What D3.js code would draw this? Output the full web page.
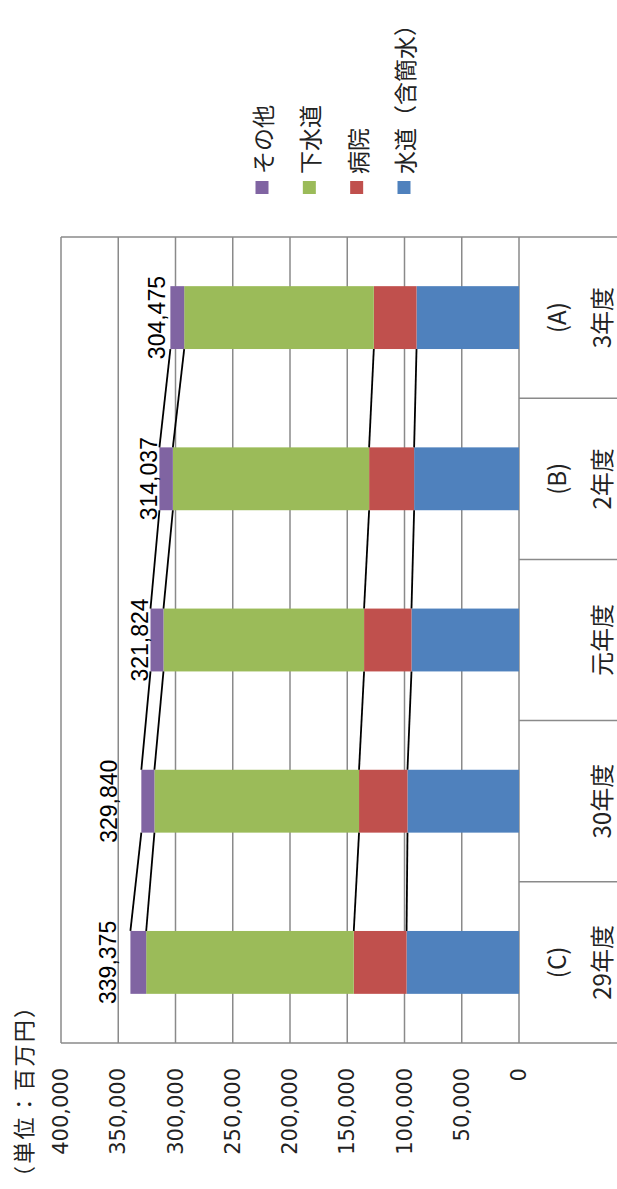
<!DOCTYPE html>
<html>
<head>
<meta charset="utf-8">
<script src="https://cdn.jsdelivr.net/npm/d3@7"></script>
<style>
  html, body { margin: 0; padding: 0; background: #fff; }
  svg { display: block; }
</style>
</head>
<body>
<svg id="chart" width="617" height="1189"></svg>
<script>
// ---- data (百万円) ----
const categories = ["29年度", "30年度", "元年度", "2年度", "3年度"];
const categoryTags = ["(C)", "", "", "(B)", "(A)"];
const seriesNames = ["水道（含簡水）", "病院", "下水道", "その他"];
const water    = [98200, 97400, 93900, 91600, 89500];
const hospital = [46100, 42300, 41400, 39300, 37300];
const sewer    = [181300, 178700, 175200, 171400, 165600];
const other    = [13775, 11440, 11324, 11737, 12075];
const totals   = [339375, 329840, 321824, 314037, 304475];
const tickValues = [0, 50000, 100000, 150000, 200000, 250000, 300000, 350000, 400000];
const unitLabel = "（単位：百万円）";

// ---- layout ----
const colors = ["#4F81BD", "#C0504D", "#9BBB59", "#8064A2"];
const plotLeft = 61, plotRight = 519, plotTop = 237, plotBottom = 1043, tableRight = 617;
const labelGap = [14, 24, 3, 2, 5];
const gridColor = "#8a8a8a";
const jp = "'Noto Sans CJK JP', 'Noto Sans', sans-serif";

const svg = d3.select("#chart");

const x = d3.scaleLinear().domain([0, 400000]).range([plotRight, plotLeft]);
const y = d3.scaleBand().domain(categories).range([plotBottom, plotTop])
  .paddingInner(0.61).paddingOuter(0.305);
const bw = y.bandwidth();
const step = y.step();

const rows = categories.map((c, i) => ({
  cat: c, s0: water[i], s1: hospital[i], s2: sewer[i], s3: other[i]
}));
const layers = d3.stack().keys(["s0", "s1", "s2", "s3"])(rows);

// gridlines
svg.append("g").selectAll("line").data(tickValues).join("line")
  .attr("x1", d => x(d)).attr("x2", d => x(d))
  .attr("y1", plotTop).attr("y2", plotBottom)
  .attr("stroke", gridColor).attr("stroke-width", 1.5);

// borders: top, bottom, category table separators
[plotTop, plotBottom].forEach(yy => {
  svg.append("line").attr("x1", plotLeft).attr("x2", tableRight)
    .attr("y1", yy).attr("y2", yy)
    .attr("stroke", gridColor).attr("stroke-width", 1.5);
});
svg.append("g").selectAll("line").data(categories.slice(0, -1)).join("line")
  .attr("x1", plotRight).attr("x2", tableRight)
  .attr("y1", d => y(d) - (step - bw) / 2)
  .attr("y2", d => y(d) - (step - bw) / 2)
  .attr("stroke", gridColor).attr("stroke-width", 1.5);

// bars
svg.append("g").selectAll("g").data(layers).join("g")
  .attr("fill", (d, i) => colors[i])
  .selectAll("rect").data(d => d).join("rect")
  .attr("y", d => y(d.data.cat))
  .attr("height", bw)
  .attr("x", d => x(d[1]))
  .attr("width", d => x(d[0]) - x(d[1]));

// series lines
layers.forEach(layer => {
  svg.append("g").selectAll("line").data(d3.pairs(layer)).join("line")
    .attr("x1", d => x(d[0][1])).attr("y1", d => y(d[0].data.cat))
    .attr("x2", d => x(d[1][1])).attr("y2", d => y(d[1].data.cat) + bw)
    .attr("stroke", "#000").attr("stroke-width", 1.8);
});

// total labels
svg.append("g").selectAll("text").data(totals).join("text")
  .attr("transform", (d, i) => `translate(${x(d) - labelGap[i]},${y(categories[i]) + bw / 2}) rotate(-90)`)
  .attr("text-anchor", "middle")
  .attr("font-family", "'Liberation Sans', Arial, sans-serif")
  .attr("font-size", 23)
  .attr("fill", "#000")
  .text(d => d3.format(",")(d));

// value tick labels
svg.append("g").selectAll("text").data(tickValues).join("text")
  .attr("transform", d => `translate(${x(d)},1068) rotate(-90)`)
  .attr("text-anchor", "end")
  .attr("dominant-baseline", "central")
  .attr("font-family", "'DejaVu Sans', sans-serif")
  .attr("font-size", 21)
  .attr("fill", "#222")
  .text(d => d3.format(",")(d));

// category labels
const catG = svg.append("g").attr("font-family", jp).attr("font-size", 24).attr("fill", "#222");
catG.selectAll("text.tag").data(categories).join("text").attr("class", "tag")
  .attr("transform", d => `translate(555,${y(d) + bw / 2}) rotate(-90)`)
  .attr("text-anchor", "middle").attr("dominant-baseline", "central")
  .text((d, i) => categoryTags[i]);
catG.selectAll("text.yr").data(categories).join("text").attr("class", "yr")
  .attr("transform", d => `translate(600,${y(d) + bw / 2}) rotate(-90)`)
  .attr("text-anchor", "middle").attr("dominant-baseline", "central")
  .text(d => d);

// unit label
svg.append("text")
  .attr("transform", "translate(22,1188) rotate(-90)")
  .attr("text-anchor", "start").attr("dominant-baseline", "central")
  .attr("font-family", jp).attr("font-size", 22).attr("fill", "#222")
  .attr("textLength", 192).attr("lengthAdjust", "spacing")
  .text(unitLabel);

// legend (reverse order: その他, 下水道, 病院, 水道)
const legendOrder = [3, 2, 1, 0];
const legendX = d3.scalePoint().domain(legendOrder).range([262, 404]);
const lg = svg.append("g").selectAll("g").data(legendOrder).join("g")
  .attr("transform", d => `translate(${legendX(d)},0)`);
lg.append("rect").attr("x", -6.5).attr("y", 181).attr("width", 13).attr("height", 13)
  .attr("fill", d => colors[d]);
lg.append("text")
  .attr("transform", "translate(0,174) rotate(-90)")
  .attr("text-anchor", "start").attr("dominant-baseline", "central")
  .attr("font-family", jp).attr("font-size", 23).attr("fill", "#222")
  .text(d => seriesNames[d]);
</script>
</body>
</html>
